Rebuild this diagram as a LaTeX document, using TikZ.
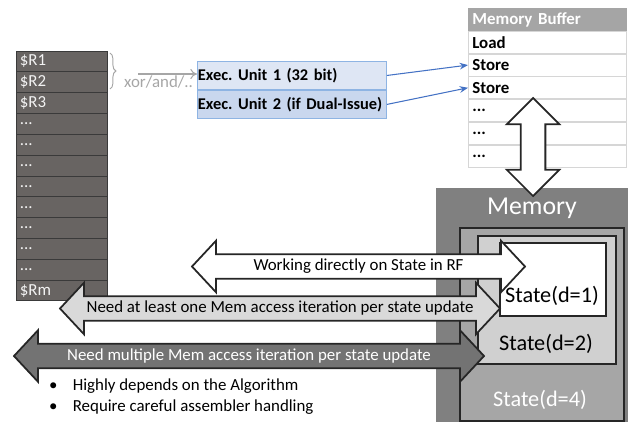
\documentclass[tikz,border=0pt]{standalone}
\usepackage{fontspec}
\setmainfont{Carlito}
\usetikzlibrary{positioning}
\usetikzlibrary{arrows.meta}
\usetikzlibrary{shapes.arrows}
\usetikzlibrary{decorations.pathreplacing}

\definecolor{regfill}{HTML}{686462}
\definecolor{regline}{HTML}{3A3A3A}
\definecolor{regtext}{HTML}{F2F2F2}
\definecolor{execA}{HTML}{DEE6F4}
\definecolor{execB}{HTML}{C9D7EE}
\definecolor{execline}{HTML}{8EB4E3}
\definecolor{linkblue}{HTML}{4472C4}
\definecolor{opgray}{HTML}{A6A6A6}
\definecolor{bufhead}{HTML}{A5A5A5}
\definecolor{bufline}{HTML}{D6D6D6}
\definecolor{memfill}{HTML}{808080}
\definecolor{dfour}{HTML}{A6A6A6}
\definecolor{dtwo}{HTML}{D0D0D0}
\definecolor{edge}{HTML}{262626}
\definecolor{lightarrow}{HTML}{D9D9D9}
\definecolor{darkarrow}{HTML}{737373}

\newcommand\regdots{...}
\newcommand\bodyfont{\fontsize{14.4}{17}\selectfont\frenchspacing}

\begin{document}
\frenchspacing
\begin{tikzpicture}[
        x=0.03cm, y=-0.03cm, % one unit is one pixel of the reference
        font=\bodyfont,
        % --- styles ---
        regcell/.style={draw=regline, fill=regfill, text=regtext, line width=0.8pt,
            minimum height=0.625cm, text width=2.5cm, inner xsep=0.115cm, align=left,
            font=\fontsize{14.4}{16}\selectfont},
        exec/.style={draw=execline, line width=0.8pt, minimum height=0.84cm,
            text width=5.64cm, inner xsep=0.015cm, align=left,
            font=\fontsize{14}{17}\selectfont\bfseries},
        bufcell/.style={draw=bufline, fill=white, line width=0.6pt, minimum height=0.66cm,
            text width=4.5cm, inner xsep=0.12cm, align=left, font=\bodyfont\bfseries},
        statebox/.style={draw=edge, line width=1.6pt, anchor=north west},
        blockarrow/.style={double arrow, draw=edge, line width=1.5pt,
            double arrow tip angle=94, double arrow head extend=0.405cm,
            minimum width=1.5cm, text height=9.5pt, text depth=2.5pt, inner ysep=3.8pt},
        link/.style={-{Stealth[length=2.5mm, width=2mm]}, linkblue, line width=0.9pt},
    ]
    \useasboundingbox (0,0) rectangle (628,422);

    % --- 1. Register file ---
    \foreach \lbl [count=\i] in {\$R1,\$R2,\$R3,\regdots,\regdots,\regdots,\regdots,\regdots,\regdots,\regdots,\regdots,\$Rm} {
        \node[regcell] (r\i) at (61.5, {51+20.83*(\i-0.5)}) {\lbl};
    }

    % brace and operation arrow towards the execution units
    \draw[opgray, line width=0.8pt, decorate, decoration={brace, amplitude=5pt}]
        (110,53) -- (110,89) coordinate[pos=0.5] (bt);
    \coordinate (opstart) at (138,74);

    % --- 2. Execution units ---
    \node[exec, fill=execA, anchor=north west] (eu1) at (197,61) {Exec. Unit 1 (32 bit)};
    \node[exec, fill=execB, below=0pt of eu1] (eu2) {Exec. Unit 2 (if Dual-Issue)};
    \draw[-{To[length=2mm, width=3mm]}, opgray, line width=0.9pt] (opstart) -- (opstart -| eu1.west);
    \node[opgray, anchor=north west, inner sep=0pt] (op) at (124,76) {xor/and/..};

    % --- 3. Memory buffer ---
    \node[bufcell, fill=bufhead, text=white, draw=bufhead, minimum height=0.57cm, anchor=north west]
        (mb0) at (468,8) {Memory Buffer};
    \foreach \lbl [count=\i] in {Load,Store,Store,\regdots,\regdots,\regdots} {
        \pgfmathtruncatemacro\prev{\i-1}
        \node[bufcell, below=0pt of mb\prev] (mb\i) {\lbl};
    }
    \draw[link] (eu1.east) -- (mb2.west);
    \draw[link] (eu2.east) -- (mb3.west);

    % --- 4. Memory and the states inside it ---
    \node[fill=memfill, minimum width=5.76cm, minimum height=7.02cm, anchor=north west] (mem) at (436,188) {};
    \node[text=white, font=\fontsize{22}{24}\selectfont] (memlbl) at (532,208) {Memory};
    \node[statebox, fill=dfour, minimum width=4.92cm, minimum height=5.79cm] (d4) at (459,227) {};
    \node[statebox, fill=dtwo, minimum width=4.14cm, minimum height=3.84cm] (d2) at (477,235) {};
    \node[statebox, fill=white, minimum width=3.18cm, minimum height=2.19cm] (d1) at (499,242) {};
    \node[font=\fontsize{19}{22}\selectfont] (d1lbl) at (552,296) {State(d=1)};
    \node[font=\fontsize{19}{22}\selectfont] (d2lbl) at (546,344) {State(d=2)};
    \node[text=white, font=\fontsize{19}{22}\selectfont] (d4lbl) at (540,400) {State(d=4)};

    % --- 5. Block arrows ---
    \node[blockarrow, fill=white, minimum height=9.99cm] (rf) at (358.5,266.5) {Working directly on State in RF};
    \node[blockarrow, fill=lightarrow, minimum height=13.2cm] (one) at (280,308.5) {Need at least one Mem access iteration per state update};
    \node[blockarrow, fill=darkarrow, text=white, minimum height=14.1cm] (multi) at (249,356) {Need multiple Mem access iteration per state update};
    \node[double arrow, draw=edge, fill=white, line width=1.5pt, rotate=90,
        double arrow tip angle=90, double arrow head extend=0.42cm,
        minimum width=1.53cm, minimum height=2.94cm, inner sep=9.8pt] (bus) at (533,147) {};

    % --- 6. Notes ---
    \node[anchor=west, inner sep=0pt] (notes) at (49,397) {%
        \begin{tabular}{@{}l@{\hspace{13pt}}l@{}}
            \textbullet & Highly depends on the Algorithm\\[1pt]
            \textbullet & Require careful assembler handling
        \end{tabular}};
\end{tikzpicture}
\end{document}
